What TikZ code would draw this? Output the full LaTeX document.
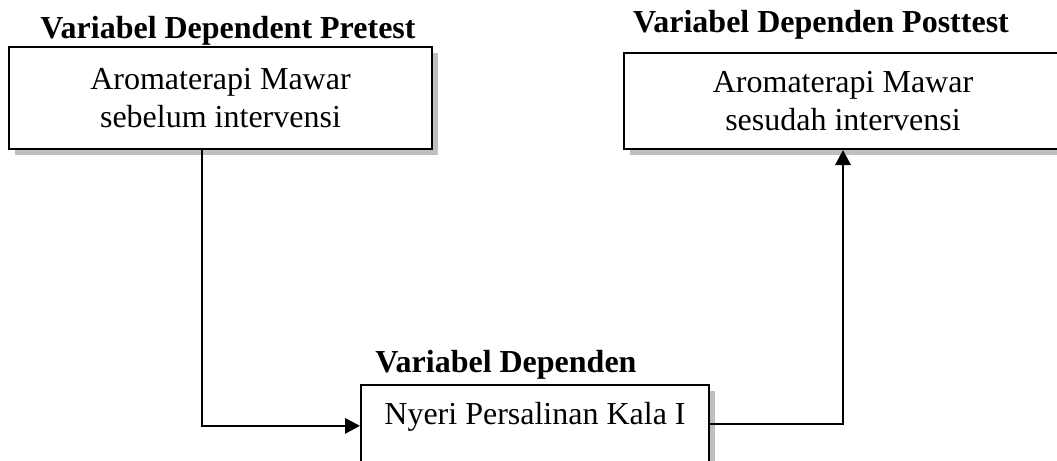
\documentclass[tikz,border=0pt]{standalone}
\usepackage{fontspec}
\setmainfont{Liberation Serif}
\usetikzlibrary{arrows.meta,shadows}
\begin{document}
\begin{tikzpicture}[x=0.375pt,y=-0.375pt,
  boxnode/.style={draw=black,line width=0.8pt,fill=white,inner sep=0pt,align=center,
    font=\fontsize{12}{14.25}\selectfont,
    drop shadow={shadow xshift=2.1pt,shadow yshift=-2.1pt,fill=black!25,opacity=1}},
  titlenode/.style={font=\fontsize{12}{14.25}\selectfont\bfseries,inner sep=0pt,anchor=base},
  conn/.style={line width=0.75pt},
  arr/.style={conn,-{Triangle[length=5.6pt,width=5.8pt]}}]
\useasboundingbox (0,0) rectangle (1057,460);
\clip (0,0) rectangle (1057,460);
% boxes
\node[boxnode,minimum width=158.6pt,minimum height=38.25pt] (L) at (220.5,98)
  {Aromaterapi Mawar\\sebelum intervensi};
\node[boxnode,minimum width=164.25pt,minimum height=36pt] (R) at (843,101)
  {Aromaterapi Mawar\\sesudah intervensi};
\node[boxnode,minimum width=130.5pt,text height=14.6pt,text depth=22pt,anchor=north] (B) at (535,384)
  {Nyeri Persalinan Kala I};
% titles
\node[titlenode] (tL) at (228,38) {Variabel Dependent Pretest};
\node[titlenode] (tR) at (821,32) {Variabel Dependen Posttest};
\node[titlenode] (tB) at (506,372) {Variabel Dependen};
% connectors
\draw[arr] ([xshift=-7pt]L.south) |- ([yshift=-0.7pt]B.base west);
\draw[arr] (B.base east) -| (R.south);
\end{tikzpicture}
\end{document}
